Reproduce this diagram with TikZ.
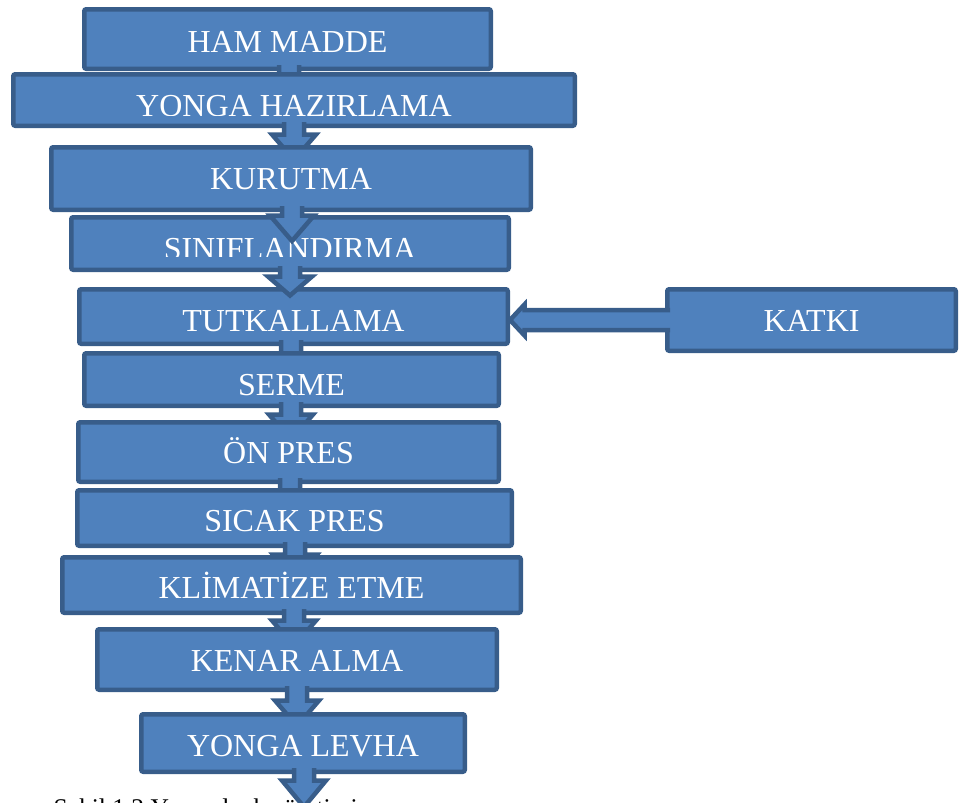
\documentclass[tikz,border=0pt]{standalone}
\usepackage{fontspec}
\setmainfont{Liberation Serif}
\usetikzlibrary{calc}
\definecolor{boxfill}{HTML}{4F81BD}
\definecolor{boxline}{HTML}{385D8A}
\tikzset{
  box/.style={draw=boxline, fill=boxfill, line width=4.5pt, rounded corners=2pt,
    text=white, font=\fontsize{32}{36}\selectfont, inner sep=0pt, text depth=0pt},
  arrline/.style={draw=boxline, line width=4.5pt, line join=miter},
  captext/.style={anchor=base west, text=black, font=\fontsize{25.5}{30}\selectfont},
}
% block arrow pointing down, starting in node #1; #2 = x centre,
% #3 = head base below #1.south, #4 = tip below #1.south
\newcommand\varrow[4]{%
  \fill[boxfill] let \p1=(#1.south) in
    ({(#2-10)*1pt},{\y1+6pt}) -- ({(#2-10)*1pt},{\y1-(#3pt)}) --
    ({(#2-22)*1pt},{\y1-(#3pt)}) -- ({#2*1pt},{\y1-(#4pt)}) --
    ({(#2+22)*1pt},{\y1-(#3pt)}) -- ({(#2+10)*1pt},{\y1-(#3pt)}) --
    ({(#2+10)*1pt},{\y1+6pt}) -- cycle;
  \draw[arrline] let \p1=(#1.south) in
    ({(#2-10)*1pt},{\y1+6pt}) -- ({(#2-10)*1pt},{\y1-(#3pt)}) --
    ({(#2-22)*1pt},{\y1-(#3pt)}) -- ({#2*1pt},{\y1-(#4pt)}) --
    ({(#2+22)*1pt},{\y1-(#3pt)}) -- ({(#2+10)*1pt},{\y1-(#3pt)}) --
    ({(#2+10)*1pt},{\y1+6pt});
}
\begin{document}
\begin{tikzpicture}[x=1pt,y=-1pt]
\useasboundingbox (0,0) rectangle (970,803);
\begin{scope}
\clip (0,0) rectangle (970,803);

\node[box,minimum width=406.5pt,minimum height=59.5pt,text height=26.2pt] (ham) at (287.5,39) {HAM MADDE};
\varrow{ham}{289}{9}{34}
\node[box,minimum width=561.5pt,minimum height=51.5pt,text height=32.2pt] (yhaz) at (294,100) {YONGA HAZIRLAMA};
\fill[boxfill] ($(yhaz.south west)+(120,-12.5)$) rectangle ($(yhaz.south east)+(-120,-4.6)$);
\varrow{yhaz}{294}{6.5}{32}
\node[box,minimum width=479.5pt,minimum height=62.5pt,text height=21.2pt] (kur) at (291,178.5) {KURUTMA};
\node[box,minimum width=437.5pt,minimum height=52.5pt,text height=31.2pt] (sin) at (290,243.5) {SINIFLANDIRMA};
\fill[boxfill] ($(sin.south west)+(80,-15)$) rectangle ($(sin.south east)+(-80,-4.6)$);
\node[box,minimum width=428.5pt,minimum height=54.5pt,text height=29.2pt] (tut) at (293.5,316.5) {TUTKALLAMA};
\varrow{kur}{292}{3.5}{29}
\varrow{sin}{290}{4.5}{23.5}
\varrow{tut}{291}{12}{38}
\node[box,minimum width=288.5pt,minimum height=61.5pt,text height=22.2pt] (katki) at (811.5,320) {KATKI};
% horizontal block arrow KATKI -> TUTKALLAMA
\fill[boxfill] let \p1=(katki.west), \p2=(tut.east) in
  ({\x1+5pt},{\y1-10pt}) -- ({\x2+14.5pt},{\y1-10pt}) -- ({\x2+14.5pt},{\y1-15.5pt}) --
  ({\x2},{\y1}) -- ({\x2+14.5pt},{\y1+15.5pt}) -- ({\x2+14.5pt},{\y1+10pt}) --
  ({\x1+5pt},{\y1+10pt}) -- cycle;
\draw[arrline] let \p1=(katki.west), \p2=(tut.east) in
  ({\x1+5pt},{\y1-10pt}) -- ({\x2+14.5pt},{\y1-10pt}) -- ({\x2+14.5pt},{\y1-15.5pt}) --
  ({\x2},{\y1}) -- ({\x2+14.5pt},{\y1+15.5pt}) -- ({\x2+14.5pt},{\y1+10pt}) --
  ({\x1+5pt},{\y1+10pt});
\node[box,minimum width=414.5pt,minimum height=52.5pt,text height=32.2pt] (serme) at (291.5,379.5) {SERME};
\varrow{serme}{291}{6.5}{32}
\node[box,minimum width=420.5pt,minimum height=59.5pt,text height=23.2pt] (onpres) at (288.5,452) {ÖN PRES};
\varrow{onpres}{290}{12}{38}
\node[box,minimum width=434.5pt,minimum height=55.5pt,text height=27.2pt] (sicak) at (294.5,518) {SICAK PRES};
\varrow{sicak}{295}{6.5}{32}
\node[box,minimum width=458.5pt,minimum height=55.5pt,text height=27.2pt] (klim) at (291.5,585) {KLİMATİZE ETME};
\varrow{klim}{294}{5.5}{31}
\node[box,minimum width=399.5pt,minimum height=60.5pt,text height=23.2pt] (kenar) at (297,659.5) {KENAR ALMA};
\varrow{kenar}{297}{8.5}{34}
\node[box,minimum width=323.5pt,minimum height=57.5pt,text height=26.2pt] (yl) at (303,743) {YONGA LEVHA};
\node[captext] (cap) at (50,816) {Şekil 1.2 Yonga levha üretimi};
\varrow{yl}{304}{6.5}{33}
\end{scope}
\end{tikzpicture}
\end{document}
